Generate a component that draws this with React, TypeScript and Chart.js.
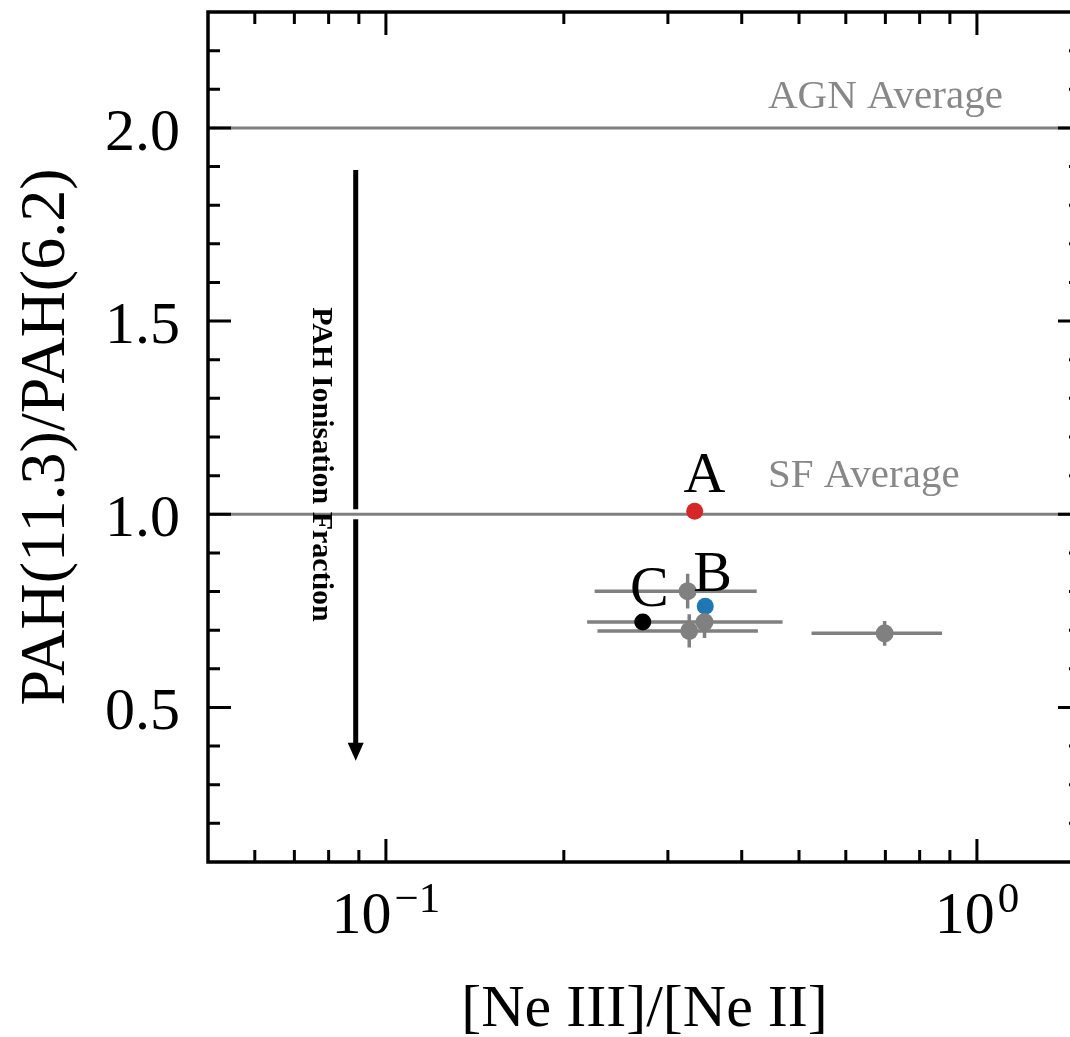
import React, { useEffect, useRef } from "react";
import { Chart, registerables } from "chart.js";

Chart.register(...registerables);

// ---- axis ranges & ticks ----
const X_MIN = 0.05;
const X_MAX = 1.5;
const Y_MIN = 0.1;
const Y_MAX = 2.3;

const xMajorTicks = [0.1, 1];
const xTickExponents = ["\u22121", "0"];
const xMinorTicks = [0.06, 0.07, 0.08, 0.09, 0.2, 0.3, 0.4, 0.5, 0.6, 0.7, 0.8, 0.9];
const yMajorTicks = [0.5, 1.0, 1.5, 2.0];
const yTickLabels = ["0.5", "1.0", "1.5", "2.0"];
const yMinorTicks = [0.2, 0.3, 0.4, 0.6, 0.7, 0.8, 0.9, 1.1, 1.2, 1.3, 1.4, 1.6, 1.7, 1.8, 1.9, 2.1, 2.2];

const xTitle = "[Ne III]/[Ne II]";
const yTitle = "PAH(11.3)/PAH(6.2)";

// ---- comparison sample (grey, with error bars) ----
const grayX = [0.324, 0.346, 0.326, 0.698];
const grayY = [0.801, 0.721, 0.698, 0.692];
const grayXLow = [0.2255, 0.219, 0.228, 0.525];
const grayXHigh = [0.424, 0.469, 0.426, 0.873];
const grayYErr = [0.045, 0.041, 0.043, 0.032];

// ---- regions A, B, C ----
const regionNames = ["A", "B", "C"];
const regionX = [0.333, 0.347, 0.272];
const regionY = [1.008, 0.762, 0.721];
const regionColors = ["#d62728", "#1f77b4", "#000000"];
const regionLabelX = [0.346, 0.357, 0.279];
const regionLabelY = [1.057, 0.801, 0.762];

// ---- reference lines ----
const refLineNames = ["AGN Average", "SF Average"];
const refLineY = [2.0, 1.0];
const refLabelX = [0.443, 0.443];
const refLabelY = [2.052, 1.07];

// ---- arrow annotation ----
const arrowX = 0.0889;
const arrowYStart = 1.891;
const arrowYEnd = 0.362;
const arrowText = "PAH Ionisation Fraction";
const arrowTextX = 0.0777;
const arrowTextY = 1.129;

const GRAY = "#808080";
const SERIF = '"Liberation Serif", "Times New Roman", serif';

const W = 1090;
const H = 1037;

const customPlugin = {
  id: "customDraw",
  beforeDatasetsDraw(chart: any) {
    const { ctx, chartArea: a, scales } = chart;
    const x = scales.x;
    const y = scales.y;
    ctx.save();
    ctx.beginPath();
    ctx.rect(a.left, a.top, a.right - a.left, a.bottom - a.top);
    ctx.clip();

    // arrow
    const ax = x.getPixelForValue(arrowX);
    const ay0 = y.getPixelForValue(arrowYStart);
    const ay1 = y.getPixelForValue(arrowYEnd);
    const headL = 18;
    const headW = 8;
    ctx.strokeStyle = "#000";
    ctx.fillStyle = "#000";
    ctx.lineWidth = 5;
    ctx.beginPath();
    ctx.moveTo(ax, ay0);
    ctx.lineTo(ax, ay1 - headL + 2);
    ctx.stroke();
    ctx.beginPath();
    ctx.moveTo(ax - headW, ay1 - headL);
    ctx.lineTo(ax + headW, ay1 - headL);
    ctx.lineTo(ax, ay1);
    ctx.closePath();
    ctx.fill();

    // reference lines
    refLineY.forEach((v) => {
      const py = y.getPixelForValue(v);
      if (py > ay0 && py < ay1) {
        ctx.fillStyle = "#fff";
        ctx.fillRect(ax - 4, py - 5, 8, 10);
      }
      ctx.strokeStyle = GRAY;
      ctx.lineWidth = 3;
      ctx.beginPath();
      ctx.moveTo(a.left, py);
      ctx.lineTo(a.right, py);
      ctx.stroke();
    });

    // error bars
    ctx.strokeStyle = GRAY;
    ctx.lineWidth = 3.5;
    grayX.forEach((vx, i) => {
      const px = x.getPixelForValue(vx);
      const py = y.getPixelForValue(grayY[i]);
      const pl = x.getPixelForValue(grayXLow[i]);
      const ph = x.getPixelForValue(grayXHigh[i]);
      const pt = y.getPixelForValue(grayY[i] + grayYErr[i]);
      const pb = y.getPixelForValue(grayY[i] - grayYErr[i]);
      ctx.beginPath();
      ctx.moveTo(pl, py);
      ctx.lineTo(ph, py);
      ctx.moveTo(px, pt);
      ctx.lineTo(px, pb);
      ctx.stroke();
    });

    // arrow text
    ctx.fillStyle = "#000";
    ctx.font = `bold 30px ${SERIF}`;
    ctx.textAlign = "center";
    ctx.textBaseline = "middle";
    ctx.translate(x.getPixelForValue(arrowTextX), y.getPixelForValue(arrowTextY));
    ctx.rotate(Math.PI / 2);
    ctx.fillText(arrowText, 0, 0);
    ctx.restore();
  },
  afterDatasetsDraw(chart: any) {
    const { ctx, scales } = chart;
    const x = scales.x;
    const y = scales.y;
    ctx.save();
    // region labels
    ctx.fillStyle = "#000";
    ctx.font = `58px ${SERIF}`;
    ctx.textAlign = "center";
    ctx.textBaseline = "alphabetic";
    regionNames.forEach((n, i) => {
      ctx.fillText(n, x.getPixelForValue(regionLabelX[i]), y.getPixelForValue(regionLabelY[i]));
    });
    // reference labels
    ctx.fillStyle = "#888888";
    ctx.font = `41px ${SERIF}`;
    ctx.textAlign = "left";
    refLineNames.forEach((n, i) => {
      ctx.fillText(n, x.getPixelForValue(refLabelX[i]), y.getPixelForValue(refLabelY[i]));
    });
    ctx.restore();
  },
  afterDraw(chart: any) {
    const { ctx, chartArea: a, scales } = chart;
    const x = scales.x;
    const y = scales.y;
    ctx.save();
    ctx.strokeStyle = "#000";
    ctx.lineWidth = 3.5;
    // spines
    ctx.strokeRect(a.left, a.top, a.right - a.left, a.bottom - a.top);
    const MAJ = 23;
    const MIN = 12;
    ctx.lineWidth = 3;
    ctx.beginPath();
    const xt = (v: number, len: number) => {
      const px = x.getPixelForValue(v);
      ctx.moveTo(px, a.bottom);
      ctx.lineTo(px, a.bottom - len);
      ctx.moveTo(px, a.top);
      ctx.lineTo(px, a.top + len);
    };
    const yt = (v: number, len: number) => {
      const py = y.getPixelForValue(v);
      ctx.moveTo(a.left, py);
      ctx.lineTo(a.left + len, py);
      ctx.moveTo(a.right, py);
      ctx.lineTo(a.right - len, py);
    };
    xMajorTicks.forEach((v) => xt(v, MAJ));
    xMinorTicks.forEach((v) => xt(v, MIN));
    yMajorTicks.forEach((v) => yt(v, MAJ));
    yMinorTicks.forEach((v) => yt(v, MIN));
    ctx.stroke();

    ctx.fillStyle = "#000";
    // y tick labels
    ctx.font = `60px ${SERIF}`;
    ctx.textAlign = "right";
    ctx.textBaseline = "alphabetic";
    yMajorTicks.forEach((v, i) => {
      ctx.fillText(yTickLabels[i], a.left - 28, y.getPixelForValue(v) + 22);
    });
    // x tick labels with superscripts
    ctx.textAlign = "left";
    xMajorTicks.forEach((v, i) => {
      const px = x.getPixelForValue(v);
      ctx.font = `60px ${SERIF}`;
      const wb = ctx.measureText("10").width;
      ctx.font = `43px ${SERIF}`;
      const we = ctx.measureText(xTickExponents[i]).width;
      const start = px - (wb + we + 3) / 2;
      ctx.font = `60px ${SERIF}`;
      ctx.fillText("10", start, a.bottom + 71);
      ctx.font = `43px ${SERIF}`;
      ctx.fillText(xTickExponents[i], start + wb + 3, a.bottom + 50);
    });
    // x title
    ctx.font = `60px ${SERIF}`;
    ctx.textAlign = "center";
    ctx.fillText(xTitle, (a.left + a.right) / 2, a.bottom + 164);
    // y title
    ctx.font = `64px ${SERIF}`;
    ctx.translate(64, (a.top + a.bottom) / 2);
    ctx.rotate(-Math.PI / 2);
    ctx.fillText(yTitle, 0, 0);
    ctx.restore();
  },
};

export default function App() {
  const ref = useRef<HTMLCanvasElement>(null);
  useEffect(() => {
    if (!ref.current) return;
    const chart = new Chart(ref.current, {
      type: "scatter",
      data: {
        datasets: [
          {
            label: "sample",
            data: grayX.map((v, i) => ({ x: v, y: grayY[i] })),
            backgroundColor: GRAY,
            borderWidth: 0,
            pointRadius: 9,
          },
          ...regionNames.map((n, i) => ({
            label: n,
            data: [{ x: regionX[i], y: regionY[i] }],
            backgroundColor: regionColors[i],
            borderWidth: 0,
            pointRadius: 8.5,
          })),
        ],
      },
      options: {
        animation: false,
        responsive: false,
        devicePixelRatio: 1,
        layout: { padding: { left: 208, top: 12, right: W - 1081, bottom: H - 862 } },
        plugins: { legend: { display: false }, tooltip: { enabled: false } },
        scales: {
          x: { type: "logarithmic", min: X_MIN, max: X_MAX, display: false },
          y: { type: "linear", min: Y_MIN, max: Y_MAX, display: false },
        },
      },
      plugins: [customPlugin],
    });
    return () => chart.destroy();
  }, []);
  return (
    <div
      style={{
        position: "fixed",
        left: 0,
        top: 0,
        width: 1070,
        height: 1037,
        overflow: "hidden",
        background: "#fff",
      }}
    >
      <canvas ref={ref} width={W} height={H} style={{ width: W, height: H, display: "block" }} />
    </div>
  );
}
